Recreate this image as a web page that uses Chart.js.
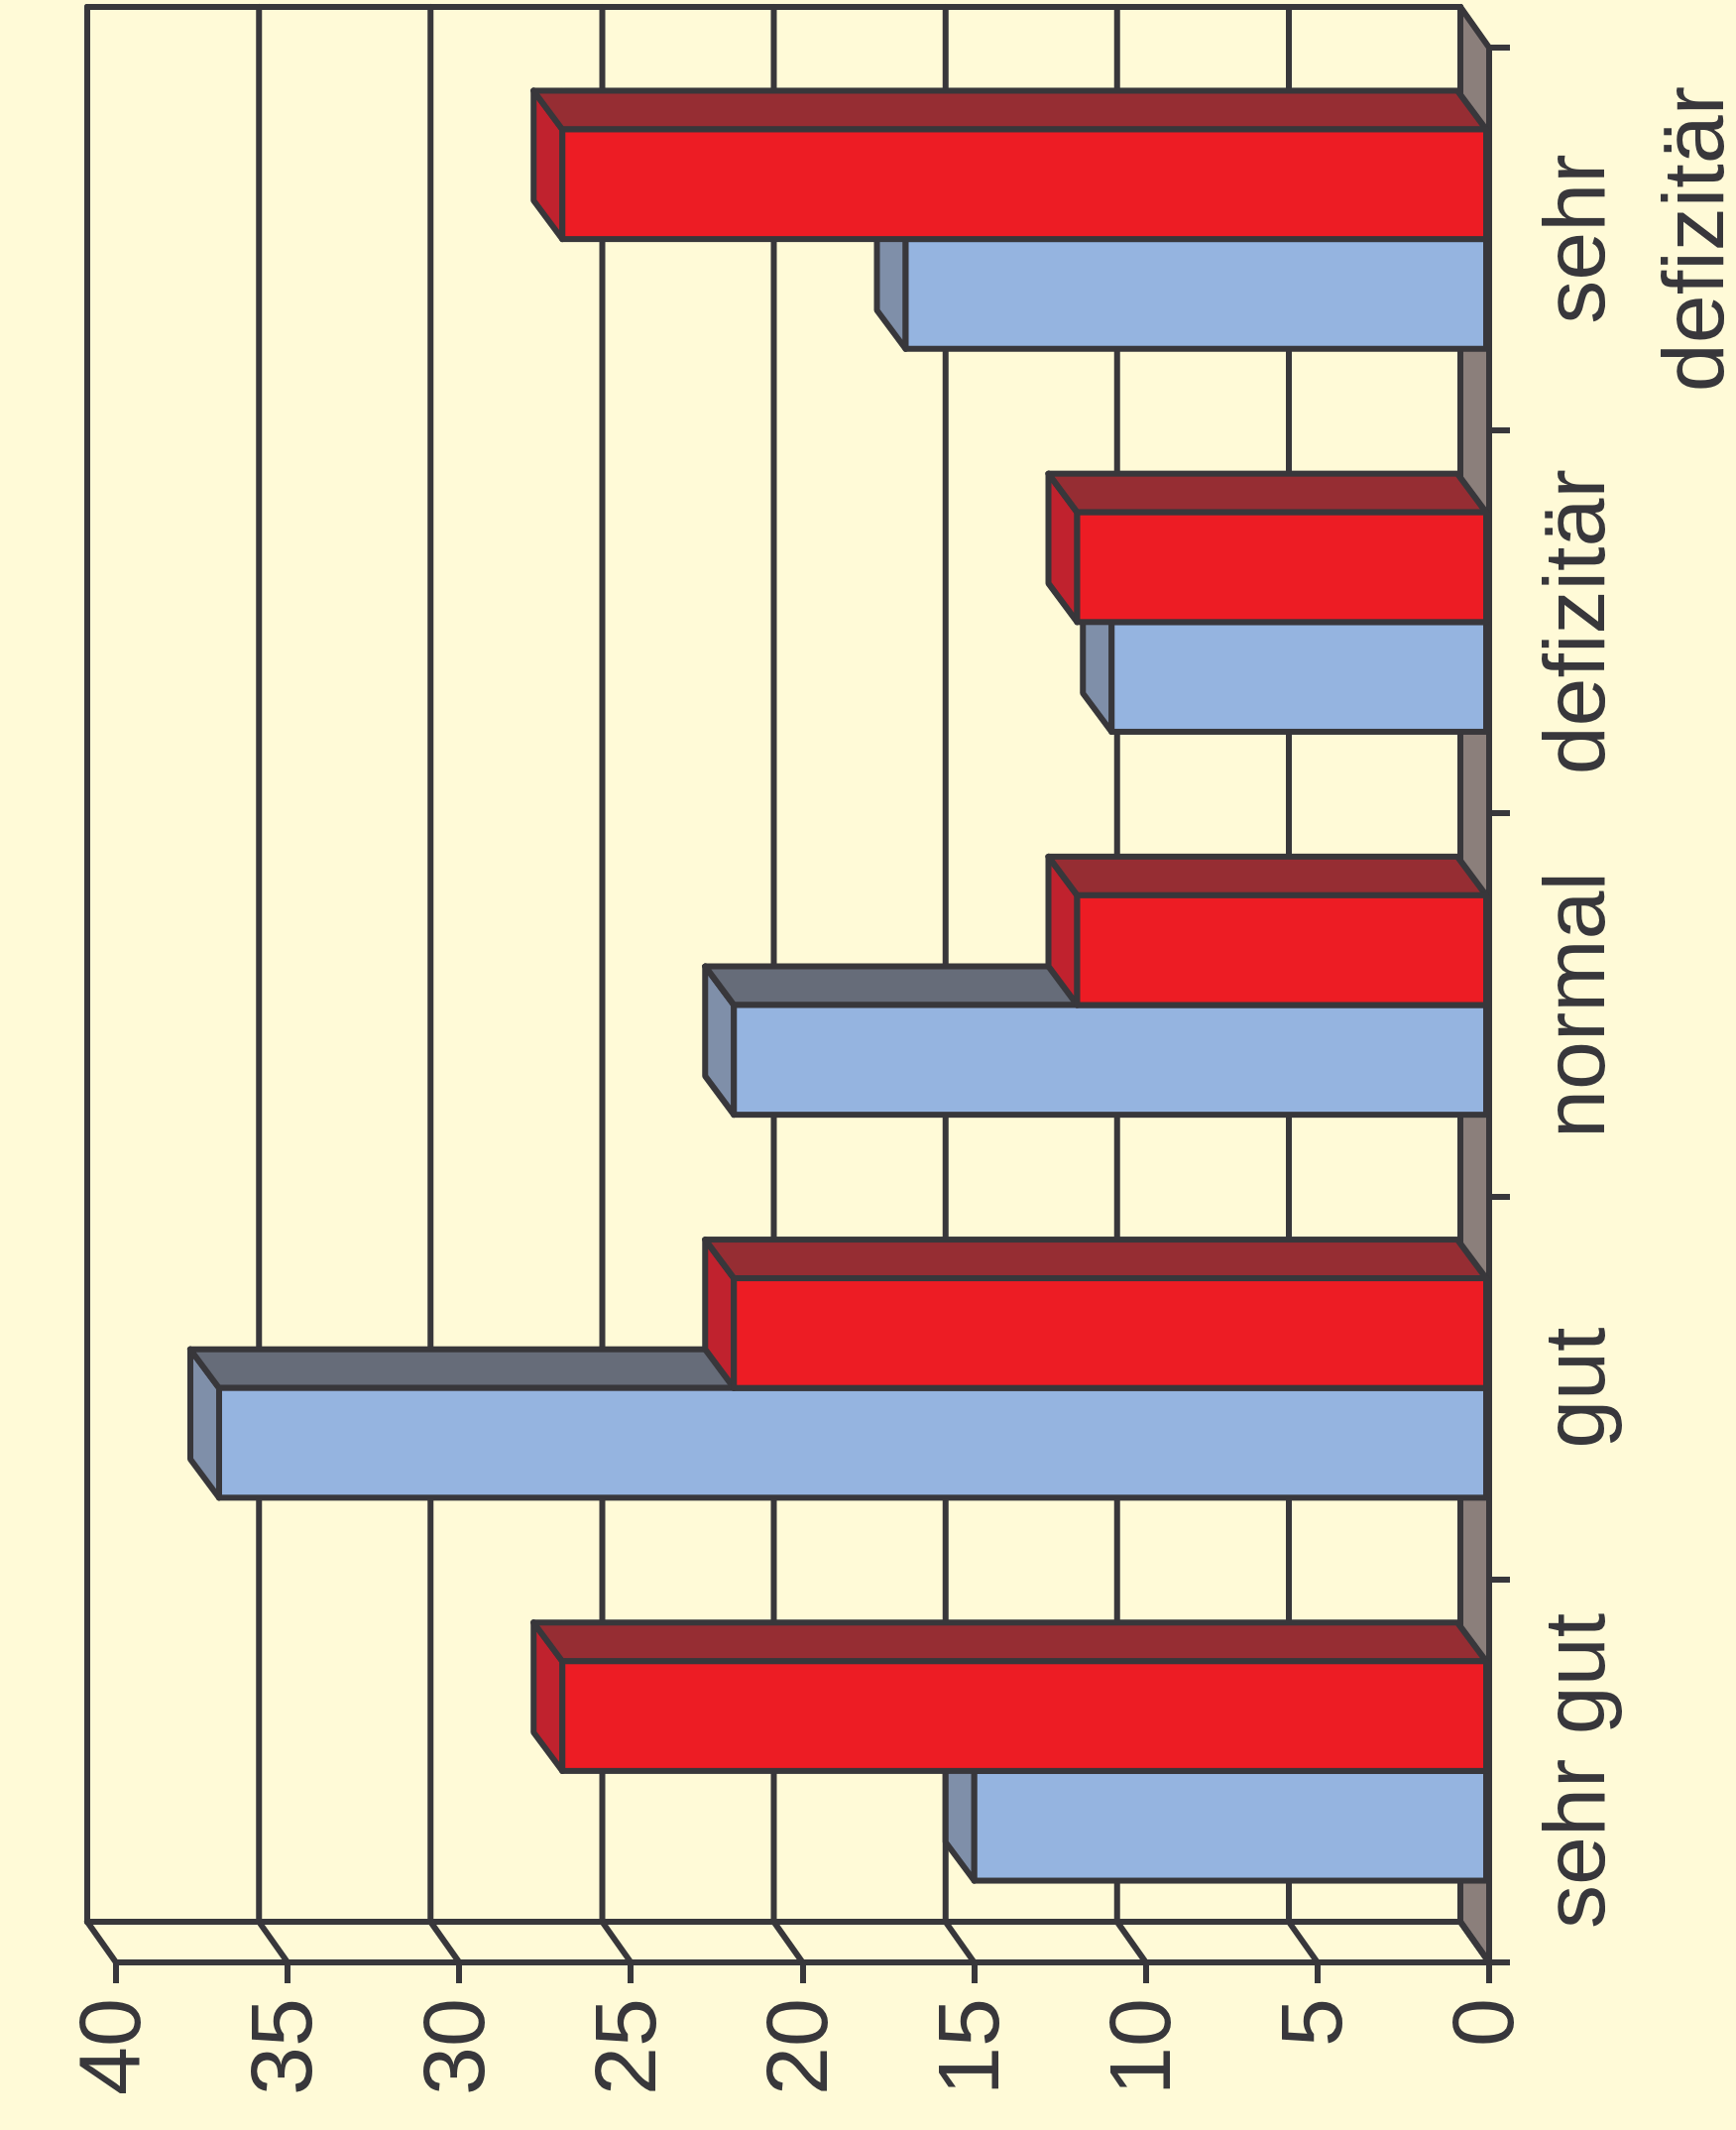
<!DOCTYPE html>
<html>
<head>
<meta charset="utf-8">
<script src="https://cdn.jsdelivr.net/npm/chart.js@4.4.1/dist/chart.umd.min.js"></script>
<style>
  html, body { margin: 0; padding: 0; background: #fffad7; overflow: hidden; }
  #wrap { position: relative; width: 1751px; height: 2148px; }
  /* chart is drawn upright, then turned a quarter left like the original */
  #chart { position: absolute; left: 0; top: 0; transform-origin: 0 0; transform: translate(0, 2148px) rotate(-90deg); }
</style>
</head>
<body>
<div id="wrap"><canvas id="chart" width="2148" height="1751"></canvas></div>
<script>
const categories = ["sehr gut", "gut", "normal", "defizitär", ["sehr", "defizitär"]];
const blueValues = [15, 37, 22, 11, 17];
const redValues = [27, 22, 12, 12, 27];
const valueTicks = [0, 5, 10, 15, 20, 25, 30, 35, 40];

const ink = "#38373b";
const faceColors = [
  { front: "#95b4e0", top: "#7f8fa9", side: "#666c79" },
  { front: "#ed1c24", top: "#c0222e", side: "#962d33" },
];
const WALL = { dx: 41, dy: -29 };
const BAR = { dx: 39, dy: -29 };

Chart.defaults.font.family = "'Liberation Sans', Arial, sans-serif";

function poly(ctx, pts, fill) {
  ctx.beginPath();
  ctx.moveTo(pts[0][0], pts[0][1]);
  for (let i = 1; i < pts.length; i++) ctx.lineTo(pts[i][0], pts[i][1]);
  ctx.closePath();
  if (fill) { ctx.fillStyle = fill; ctx.fill(); }
  ctx.stroke();
}

function seg(ctx, x1, y1, x2, y2) {
  ctx.beginPath();
  ctx.moveTo(x1, y1);
  ctx.lineTo(x2, y2);
  ctx.stroke();
}

const box3d = {
  id: "box3d",
  beforeDraw(chart) {
    const ctx = chart.ctx;
    ctx.save();
    ctx.fillStyle = "#fffad7";
    ctx.fillRect(0, 0, chart.width, chart.height);
    ctx.restore();
  },
  beforeDatasetsDraw(chart) {
    const { ctx, chartArea: a, scales: { y } } = chart;
    const y0 = y.getPixelForValue(0);
    const yTop = y.getPixelForValue(valueTicks[valueTicks.length - 1]);
    ctx.save();
    ctx.lineWidth = 6;
    ctx.strokeStyle = ink;
    ctx.lineJoin = "round";
    ctx.lineCap = "round";
    // floor
    poly(ctx, [[a.left, y0], [a.right, y0], [a.right + WALL.dx, y0 + WALL.dy], [a.left + WALL.dx, y0 + WALL.dy]], "#8b7f7b");
    // back wall grid and side wall lines
    valueTicks.forEach(v => {
      const py = y.getPixelForValue(v);
      seg(ctx, a.left + WALL.dx, py + WALL.dy, a.right + WALL.dx, py + WALL.dy);
      seg(ctx, a.left, py, a.left + WALL.dx, py + WALL.dy);
    });
    seg(ctx, a.left + WALL.dx, yTop + WALL.dy, a.left + WALL.dx, y0 + WALL.dy);
    seg(ctx, a.right + WALL.dx, yTop + WALL.dy, a.right + WALL.dx, y0 + WALL.dy);
    ctx.restore();
  },
  afterDatasetsDraw(chart) {
    const ctx = chart.ctx;
    ctx.save();
    ctx.lineWidth = 6;
    ctx.strokeStyle = ink;
    ctx.lineJoin = "round";
    ctx.lineCap = "round";
    const metas = chart.data.datasets.map((d, i) => chart.getDatasetMeta(i));
    for (let i = 0; i < categories.length; i++) {
      metas.forEach((meta, di) => {
        const bar = meta.data[i];
        const c = faceColors[di];
        const x0 = bar.x - bar.width / 2, x1 = bar.x + bar.width / 2;
        const yt = bar.y, yb = bar.base;
        poly(ctx, [[x0, yt], [x1, yt], [x1 + BAR.dx, yt + BAR.dy], [x0 + BAR.dx, yt + BAR.dy]], c.top);
        poly(ctx, [[x1, yt], [x1 + BAR.dx, yt + BAR.dy], [x1 + BAR.dx, yb + BAR.dy], [x1, yb]], c.side);
        poly(ctx, [[x0, yt], [x1, yt], [x1, yb], [x0, yb]], c.front);
      });
    }
    ctx.restore();
  }
};

new Chart(document.getElementById("chart"), {
  type: "bar",
  data: {
    labels: categories,
    datasets: [
      { data: blueValues, backgroundColor: faceColors[0].front, borderWidth: 0, categoryPercentage: 0.573, barPercentage: 1.0 },
      { data: redValues, backgroundColor: faceColors[1].front, borderWidth: 0, categoryPercentage: 0.573, barPercentage: 1.0 },
    ],
  },
  options: {
    responsive: false,
    animation: false,
    layout: { padding: { top: 117, right: 48, left: 0, bottom: 0 } },
    plugins: { legend: { display: false }, tooltip: { enabled: false } },
    scales: {
      x: {
        grid: { drawOnChartArea: false, tickLength: 21, color: ink, lineWidth: 6, offset: true },
        border: { color: ink, width: 6 },
        ticks: { color: ink, font: { size: 88, lineHeight: 1.364 }, padding: 11, maxRotation: 0, autoSkip: false },
        afterFit: s => { s.height = 249; },
      },
      y: {
        min: 0,
        max: 40,
        grid: { drawOnChartArea: false, tickLength: 21, color: ink, lineWidth: 6 },
        border: { color: ink, width: 6 },
        ticks: { stepSize: 5, color: ink, font: { size: 88 }, padding: 15 },
        afterFit: s => { s.width = 169; },
      },
    },
  },
  plugins: [box3d],
});
</script>
</body>
</html>
